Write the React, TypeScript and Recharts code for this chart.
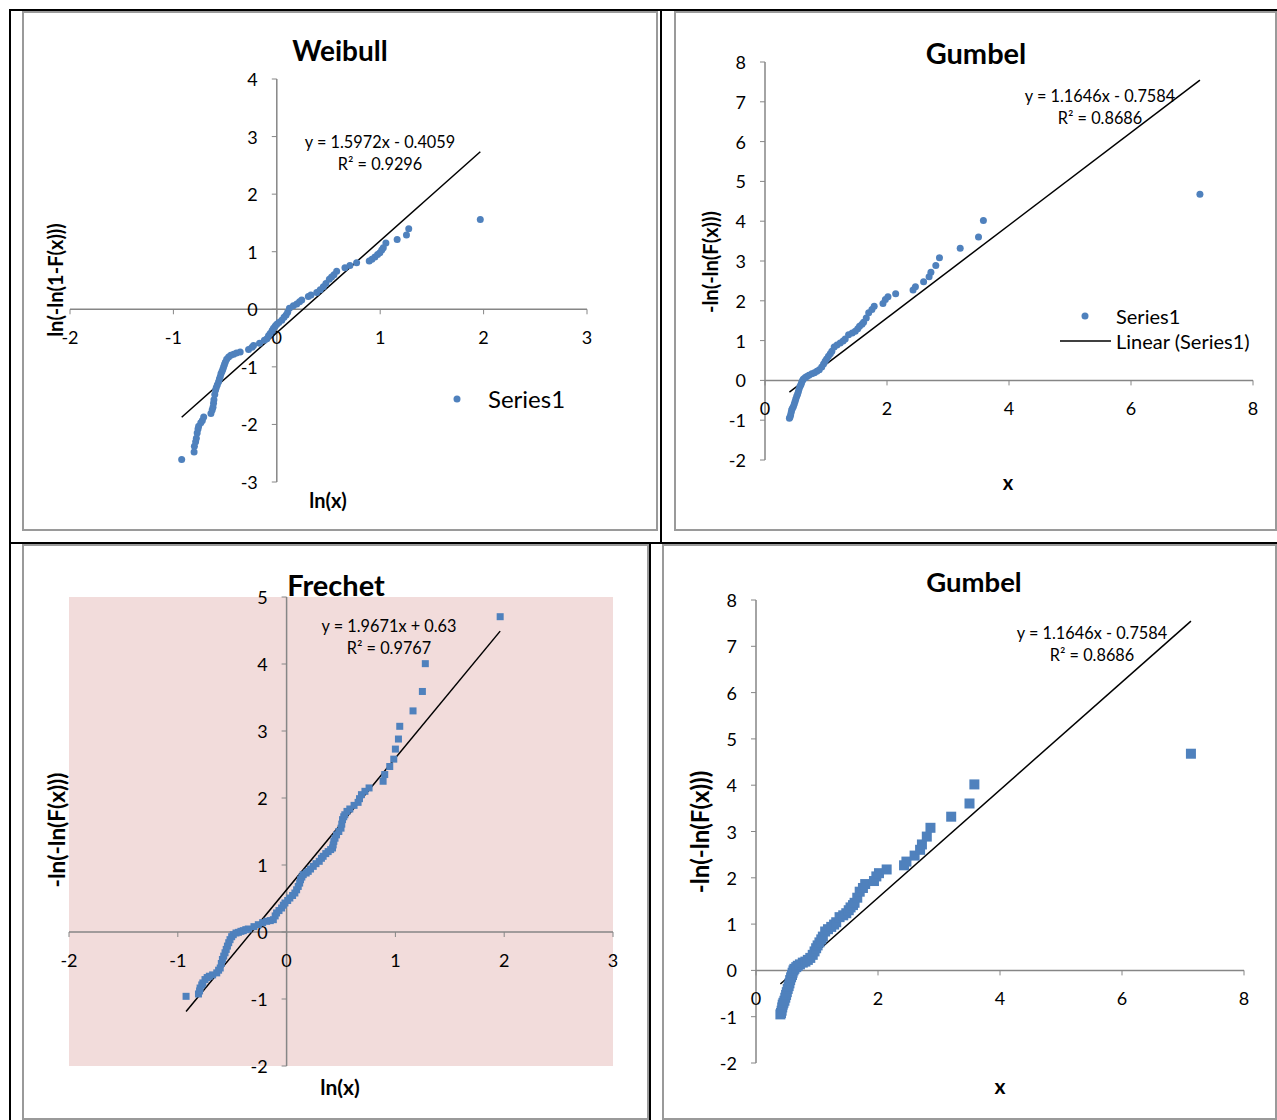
import React from 'react';
import { ScatterChart, Scatter, XAxis, YAxis, ReferenceLine, ReferenceDot, ReferenceArea } from 'recharts';

type Pt = { x: number; y: number };
const pts = (rows: number[][]): Pt[] => rows.map(([x, y]) => ({ x, y }));

// ---- Weibull: ln(x) vs ln(-ln(1-F(x)))
const weibullPoints = pts([
  [-0.92, -2.61], [-0.8, -2.48], [-0.797, -2.38], [-0.785, -2.3], [-0.778, -2.24], [-0.77, -2.15],
  [-0.762, -2.08], [-0.756, -2.03], [-0.735, -1.97], [-0.72, -1.93], [-0.707, -1.87], [-0.637, -1.81],
  [-0.625, -1.75], [-0.617, -1.7], [-0.612, -1.63], [-0.608, -1.57], [-0.6, -1.48], [-0.592, -1.4],
  [-0.585, -1.36], [-0.575, -1.31], [-0.563, -1.26], [-0.555, -1.21], [-0.547, -1.17], [-0.54, -1.12],
  [-0.53, -1.08], [-0.522, -1.04], [-0.514, -1.0], [-0.506, -0.96], [-0.498, -0.92], [-0.485, -0.87],
  [-0.466, -0.83], [-0.445, -0.8], [-0.418, -0.78], [-0.39, -0.76], [-0.354, -0.74], [-0.273, -0.7],
  [-0.24, -0.66], [-0.225, -0.63], [-0.167, -0.59], [-0.12, -0.54], [-0.096, -0.51], [-0.08, -0.46],
  [-0.064, -0.42], [-0.045, -0.37], [-0.032, -0.33], [-0.015, -0.29], [0, -0.26], [0.02, -0.23],
  [0.048, -0.19], [0.07, -0.14], [0.09, -0.1], [0.105, -0.05], [0.122, 0.02], [0.16, 0.06],
  [0.193, 0.09], [0.22, 0.13], [0.241, 0.16], [0.305, 0.22], [0.33, 0.25], [0.386, 0.29],
  [0.42, 0.34], [0.45, 0.39], [0.475, 0.45], [0.508, 0.52], [0.53, 0.56], [0.553, 0.6],
  [0.579, 0.66], [0.659, 0.72], [0.707, 0.76], [0.772, 0.81], [0.894, 0.84], [0.92, 0.87],
  [0.949, 0.91], [0.975, 0.95], [0.997, 0.98], [1.015, 1.03], [1.03, 1.07], [1.055, 1.15],
  [1.164, 1.21], [1.254, 1.29], [1.276, 1.4], [1.968, 1.56],
]);
const weibullTrend = pts([[-0.92, -1.875], [1.968, 2.737]]);
const weibullXTicks = [-2, -1, 0, 1, 2, 3];
const weibullYTicks = [-3, -2, -1, 0, 1, 2, 3, 4];

// ---- Gumbel: x vs -ln(-ln(F(x))) (same data in both Gumbel panels)
const gumbelPoints = pts([
  [0.4, -0.95], [0.41, -0.92], [0.42, -0.87], [0.43, -0.8], [0.438, -0.74], [0.45, -0.7],
  [0.466, -0.655], [0.48, -0.59], [0.493, -0.53], [0.505, -0.47], [0.52, -0.4], [0.535, -0.34],
  [0.548, -0.28], [0.56, -0.21], [0.575, -0.15], [0.59, -0.1], [0.6, -0.05], [0.615, 0.0],
  [0.63, 0.034], [0.66, 0.07], [0.685, 0.1], [0.72, 0.13], [0.767, 0.168], [0.81, 0.19],
  [0.85, 0.227], [0.89, 0.27], [0.93, 0.336], [0.96, 0.41], [0.986, 0.479], [1.01, 0.54],
  [1.04, 0.605], [1.07, 0.67], [1.096, 0.73], [1.134, 0.84], [1.18, 0.89], [1.233, 0.94],
  [1.28, 0.99], [1.315, 1.04], [1.37, 1.15], [1.43, 1.19], [1.48, 1.235], [1.52, 1.3],
  [1.55, 1.36], [1.59, 1.41], [1.616, 1.46], [1.66, 1.57], [1.7, 1.7], [1.753, 1.78],
  [1.79, 1.865], [1.934, 1.93], [1.973, 2.03], [2.016, 2.1], [2.142, 2.18], [2.427, 2.27],
  [2.466, 2.35], [2.6, 2.48], [2.69, 2.605], [2.72, 2.72], [2.8, 2.89], [2.86, 3.08],
  [3.2, 3.32], [3.5, 3.605], [3.58, 4.017], [7.13, 4.68],
]);
const gumbelTrend = pts([[0.4, -0.293], [7.13, 7.545]]);
const gumbelXTicks = [0, 2, 4, 6, 8];
const gumbelYTicks = [-2, -1, 0, 1, 2, 3, 4, 5, 6, 7, 8];

// ---- Frechet: ln(x) vs -ln(-ln(F(x)))
const frechetPoints = pts([
  [-0.924, -0.96], [-0.81, -0.925], [-0.8, -0.88], [-0.795, -0.836], [-0.78, -0.79], [-0.77, -0.76],
  [-0.75, -0.71], [-0.73, -0.68], [-0.71, -0.66], [-0.68, -0.64], [-0.642, -0.61], [-0.625, -0.57],
  [-0.61, -0.537], [-0.6, -0.47], [-0.59, -0.41], [-0.578, -0.36], [-0.566, -0.31], [-0.555, -0.26],
  [-0.544, -0.21], [-0.532, -0.16], [-0.52, -0.114], [-0.505, -0.07], [-0.49, -0.04], [-0.465, -0.015],
  [-0.443, -0.005], [-0.42, 0.01], [-0.398, 0.02], [-0.375, 0.035], [-0.352, 0.045], [-0.3, 0.08],
  [-0.26, 0.109], [-0.22, 0.14], [-0.183, 0.16], [-0.15, 0.17], [-0.122, 0.184], [-0.105, 0.24],
  [-0.092, 0.284], [-0.07, 0.32], [-0.046, 0.358], [-0.03, 0.4], [-0.015, 0.433], [0.01, 0.47],
  [0.03, 0.507], [0.055, 0.545], [0.076, 0.582], [0.092, 0.63], [0.107, 0.68], [0.12, 0.73],
  [0.128, 0.78], [0.14, 0.82], [0.153, 0.856], [0.18, 0.88], [0.199, 0.905], [0.22, 0.94],
  [0.245, 0.98], [0.27, 1.02], [0.3, 1.055], [0.32, 1.1], [0.336, 1.13], [0.36, 1.17],
  [0.382, 1.2], [0.405, 1.23], [0.422, 1.254], [0.428, 1.3], [0.434, 1.353], [0.445, 1.4],
  [0.459, 1.45], [0.48, 1.5], [0.5, 1.55], [0.507, 1.61], [0.514, 1.677], [0.525, 1.72],
  [0.535, 1.75], [0.555, 1.8], [0.581, 1.836], [0.62, 1.89], [0.657, 1.935], [0.67, 1.99],
  [0.688, 2.05], [0.72, 2.1], [0.758, 2.15], [0.887, 2.25], [0.902, 2.35], [0.948, 2.47],
  [0.985, 2.58], [1.0, 2.73], [1.028, 2.88], [1.04, 3.07], [1.162, 3.3], [1.248, 3.59],
  [1.275, 4.005], [1.963, 4.706],
]);
const frechetTrend = pts([[-0.924, -1.187], [1.963, 4.491]]);
const frechetXTicks = [-2, -1, 0, 1, 2, 3];
const frechetYTicks = [-2, -1, 0, 1, 2, 3, 4, 5];

const FONT = 'Lato, "Open Sans", sans-serif';
const AXIS = '#868686';
const BLUE = '#4F81BD';

type Box = { left: number; top: number; width: number; height: number };
type Rect = { x0: number; x1: number; y0: number; y1: number };

interface PanelProps {
  box: Box;
  plot: Rect;
  xDomain: [number, number];
  yDomain: [number, number];
  xTicks: number[];
  yTicks: number[];
  points: Pt[];
  trend: Pt[];
  marker: 'circle' | 'square';
  markerSize: number;
  bg?: string;
}

const xTickShape = (label: string) => (p: any) => (
  <g>
    <line x1={p.cx} y1={p.cy} x2={p.cx} y2={p.cy + 5} stroke={AXIS} strokeWidth={1} />
    <text x={p.cx} y={p.cy + 28} textAnchor="middle" dominantBaseline="central" fontSize={18} fontFamily={FONT} fill="#000">
      {label}
    </text>
  </g>
);

const yTickShape = (label: string) => (p: any) => (
  <g>
    <line x1={p.cx - 5} y1={p.cy} x2={p.cx} y2={p.cy} stroke={AXIS} strokeWidth={1} />
    <text x={p.cx - 19} y={p.cy} textAnchor="end" dominantBaseline="central" fontSize={18} fontFamily={FONT} fill="#000">
      {label}
    </text>
  </g>
);

const Panel: React.FC<PanelProps> = ({ box, plot, xDomain, yDomain, xTicks, yTicks, points, trend, marker, markerSize, bg }) => {
  const margin = {
    left: plot.x0 - box.left,
    right: box.left + box.width - plot.x1,
    top: plot.y0 - box.top,
    bottom: box.top + box.height - plot.y1,
  };
  const half = markerSize / 2;
  const shape = (p: any) =>
    marker === 'circle' ? (
      <circle cx={p.cx} cy={p.cy} r={half} fill={BLUE} />
    ) : (
      <rect x={p.cx - half} y={p.cy - half} width={markerSize} height={markerSize} fill={BLUE} />
    );
  return (
    <>
      <div
        style={{
          position: 'absolute',
          left: box.left,
          top: box.top,
          width: box.width,
          height: box.height,
          border: '2px solid #9a9a9a',
          boxSizing: 'border-box',
        }}
      />
      <div style={{ position: 'absolute', left: box.left, top: box.top }}>
        <ScatterChart width={box.width} height={box.height} margin={margin}>
          <XAxis type="number" dataKey="x" domain={xDomain} hide allowDataOverflow />
          <YAxis type="number" dataKey="y" domain={yDomain} hide allowDataOverflow />
          {bg && (
            <ReferenceArea x1={xDomain[0]} x2={xDomain[1]} y1={yDomain[0]} y2={yDomain[1]} fill={bg} fillOpacity={1} stroke="none" ifOverflow="visible" />
          )}
          <ReferenceLine y={0} stroke={AXIS} strokeWidth={1.5} ifOverflow="visible" />
          <ReferenceLine x={0} stroke={AXIS} strokeWidth={1.5} ifOverflow="visible" />
          {xTicks.map((t) => (
            <ReferenceDot key={'x' + t} x={t} y={0} r={0} ifOverflow="visible" shape={xTickShape(String(t))} />
          ))}
          {yTicks.map((t) => (
            <ReferenceDot key={'y' + t} x={0} y={t} r={0} ifOverflow="visible" shape={yTickShape(String(t))} />
          ))}
          <Scatter data={points} shape={shape} isAnimationActive={false} />
          <ReferenceLine segment={trend} stroke="#000" strokeWidth={1.5} ifOverflow="visible" />
        </ScatterChart>
      </div>
    </>
  );
};

const Txt: React.FC<{ x: number; y: number; size: number; bold?: boolean; rotate?: boolean; start?: boolean; children: React.ReactNode }> = ({
  x, y, size, bold, rotate, start, children,
}) => (
  <div
    style={{
      position: 'absolute',
      left: x,
      top: y,
      transform: `translate(${start ? '0' : '-50%'}, -50%)${rotate ? ' rotate(-90deg)' : ''}`,
      fontSize: size,
      fontWeight: bold ? 700 : 400,
      fontFamily: FONT,
      whiteSpace: 'nowrap',
      lineHeight: 1,
      color: '#000',
    }}
  >
    {children}
  </div>
);

const Bar = ({ left, top, width, height }: Box) => (
  <div style={{ position: 'absolute', left, top, width, height, background: '#000' }} />
);

export default function App() {
  return (
    <div style={{ position: 'absolute', left: 0, top: 0, width: 1277, height: 1120, background: '#fff', overflow: 'hidden' }}>
      {/* table borders */}
      <Bar left={9} top={9} width={1268} height={2} />
      <Bar left={9} top={542} width={1268} height={2} />
      <Bar left={9} top={9} width={2} height={1111} />
      <Bar left={660} top={9} width={2} height={534} />
      <Bar left={649} top={543} width={2} height={577} />

      {/* Weibull */}
      <Panel
        box={{ left: 22, top: 11, width: 636, height: 520 }}
        plot={{ x0: 70, x1: 587, y0: 79, y1: 482 }}
        xDomain={[-2, 3]}
        yDomain={[-3, 4]}
        xTicks={weibullXTicks}
        yTicks={weibullYTicks}
        points={weibullPoints}
        trend={weibullTrend}
        marker="circle"
        markerSize={7}
      />
      <Txt x={340} y={50} size={28} bold>Weibull</Txt>
      <Txt x={55} y={280} size={20} bold rotate>ln(-ln(1-F(x)))</Txt>
      <Txt x={328} y={500} size={20} bold>ln(x)</Txt>
      <Txt x={380} y={142} size={16.3}>y = 1.5972x - 0.4059</Txt>
      <Txt x={380} y={164} size={16.3}>R² = 0.9296</Txt>
      <svg style={{ position: 'absolute', left: 450, top: 392 }} width={14} height={14}>
        <circle cx={7} cy={7} r={3.5} fill={BLUE} />
      </svg>
      <Txt x={488} y={399} size={24} start>Series1</Txt>

      {/* Gumbel (top) */}
      <Panel
        box={{ left: 674, top: 11, width: 603, height: 520 }}
        plot={{ x0: 765, x1: 1253, y0: 62, y1: 460 }}
        xDomain={[0, 8]}
        yDomain={[-2, 8]}
        xTicks={gumbelXTicks}
        yTicks={gumbelYTicks}
        points={gumbelPoints}
        trend={gumbelTrend}
        marker="circle"
        markerSize={7}
      />
      <Txt x={976} y={52} size={29} bold>Gumbel</Txt>
      <Txt x={710} y={262} size={20} bold rotate>-ln(-ln(F(x)))</Txt>
      <Txt x={1008} y={482} size={20} bold>x</Txt>
      <Txt x={1100} y={96} size={16.3}>y = 1.1646x - 0.7584</Txt>
      <Txt x={1100} y={118} size={16.3}>R² = 0.8686</Txt>
      <svg style={{ position: 'absolute', left: 1058, top: 308 }} width={56} height={40}>
        <circle cx={27} cy={8} r={3.5} fill={BLUE} />
        <line x1={2} y1={33} x2={53} y2={33} stroke="#000" strokeWidth={1.5} />
      </svg>
      <Txt x={1116} y={316} size={20} start>Series1</Txt>
      <Txt x={1116} y={341} size={20} start>Linear (Series1)</Txt>

      {/* Frechet */}
      <Panel
        box={{ left: 22, top: 544, width: 627, height: 576 }}
        plot={{ x0: 69, x1: 613, y0: 597, y1: 1066 }}
        xDomain={[-2, 3]}
        yDomain={[-2, 5]}
        xTicks={frechetXTicks}
        yTicks={frechetYTicks}
        points={frechetPoints}
        trend={frechetTrend}
        marker="square"
        markerSize={7}
        bg="#F2DCDB"
      />
      <Txt x={336} y={584} size={29} bold>Frechet</Txt>
      <Txt x={57} y={830} size={22.5} bold rotate>-ln(-ln(F(x)))</Txt>
      <Txt x={340} y={1086} size={21} bold>ln(x)</Txt>
      <Txt x={389} y={626} size={16.3}>y = 1.9671x + 0.63</Txt>
      <Txt x={389} y={648} size={16.3}>R² = 0.9767</Txt>

      {/* Gumbel (bottom) */}
      <Panel
        box={{ left: 662, top: 544, width: 615, height: 576 }}
        plot={{ x0: 756, x1: 1244, y0: 600, y1: 1063 }}
        xDomain={[0, 8]}
        yDomain={[-2, 8]}
        xTicks={gumbelXTicks}
        yTicks={gumbelYTicks}
        points={gumbelPoints}
        trend={gumbelTrend}
        marker="square"
        markerSize={10}
      />
      <Txt x={974} y={582} size={27.5} bold>Gumbel</Txt>
      <Txt x={700} y={832} size={24} bold rotate>-ln(-ln(F(x)))</Txt>
      <Txt x={1000} y={1085} size={21} bold>x</Txt>
      <Txt x={1092} y={633} size={16.3}>y = 1.1646x - 0.7584</Txt>
      <Txt x={1092} y={655} size={16.3}>R² = 0.8686</Txt>
    </div>
  );
}
